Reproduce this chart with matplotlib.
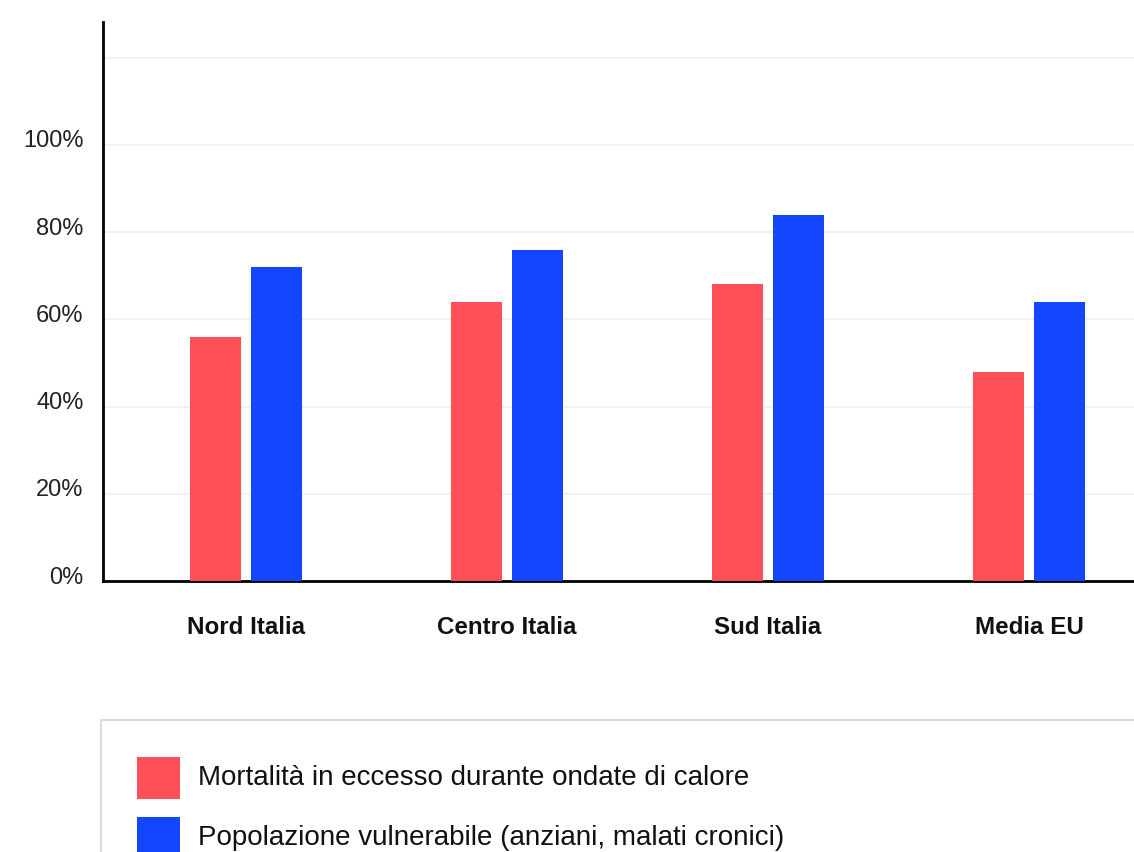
import matplotlib.pyplot as plt
import matplotlib.transforms as mtransforms
from matplotlib.patches import Rectangle
import numpy as np

plt.rcParams['font.family'] = ['Liberation Sans', 'DejaVu Sans']

# data
regions = ['Nord Italia', 'Centro Italia', 'Sud Italia', 'Media EU']
mortalita = [56, 64, 68, 48]
vulnerabile = [72, 76, 84, 64]
series_labels = ['Mortalità in eccesso durante ondate di calore',
                 'Popolazione vulnerabile (anziani, malati cronici)']
tick_vals = [0, 20, 40, 60, 80, 100]
tick_labels = ['0%', '20%', '40%', '60%', '80%', '100%']

red = '#ff505a'
blue = '#1446ff'

W, H = 1134, 852
fig = plt.figure(figsize=(W / 100, H / 100), dpi=100)
ax = fig.add_axes([103 / W, 1 - 581 / H, 1 - 103 / W, (581 - 22) / H])

x = np.arange(len(regions))
bw = 0.198
off = 0.117
ax.bar(x - off, mortalita, bw, color=red, zorder=3)
ax.bar(x + off, vulnerabile, bw, color=blue, zorder=3)

ax.set_xlim(-0.548, 3.402)
ax.set_ylim(0, 128.2)

# light horizontal grid, including the unlabeled top line
for v in tick_vals[1:] + [120]:
    ax.axhline(v, color='#f2f2f2', lw=1.4, zorder=1)

ax.set_yticks(tick_vals)
ax.set_yticklabels(tick_labels, fontsize=17, color='#222222')
ax.tick_params(axis='y', length=0, pad=14)
shift = mtransforms.ScaledTranslation(0, 6 / 100, fig.dpi_scale_trans)
for lab in ax.get_yticklabels():
    lab.set_transform(lab.get_transform() + shift)

ax.set_xticks(x)
ax.set_xticklabels(regions, fontsize=17.4, fontweight='bold', color='#111111')
ax.tick_params(axis='x', length=0, pad=25)

for s in ['top', 'right']:
    ax.spines[s].set_visible(False)
ax.spines['left'].set_linewidth(2)
ax.spines['bottom'].set_linewidth(2)
ax.spines['left'].set_color('black')
ax.spines['bottom'].set_color('black')

# legend box running off the page, drawn in pixel coordinates
def fx(px):
    return px / W

def fy(py):
    return 1 - py / H

fig.patches.append(Rectangle((fx(101), -0.2), 1, fy(720) + 0.2, transform=fig.transFigure,
                             facecolor='white', edgecolor='#dddddd', lw=1.5, zorder=0))

for i, (lab, col) in enumerate(zip(series_labels, [red, blue])):
    top = 757 + 60 * i
    fig.patches.append(Rectangle((fx(137), fy(top + 42)), 43 / W, 42 / H,
                                 transform=fig.transFigure, facecolor=col,
                                 edgecolor='none', zorder=1))
    fig.text(fx(198), fy(top + 21), lab, fontsize=20, color='#111111',
             va='center', ha='left')

fig.savefig('out.png', dpi=100, facecolor='white')
